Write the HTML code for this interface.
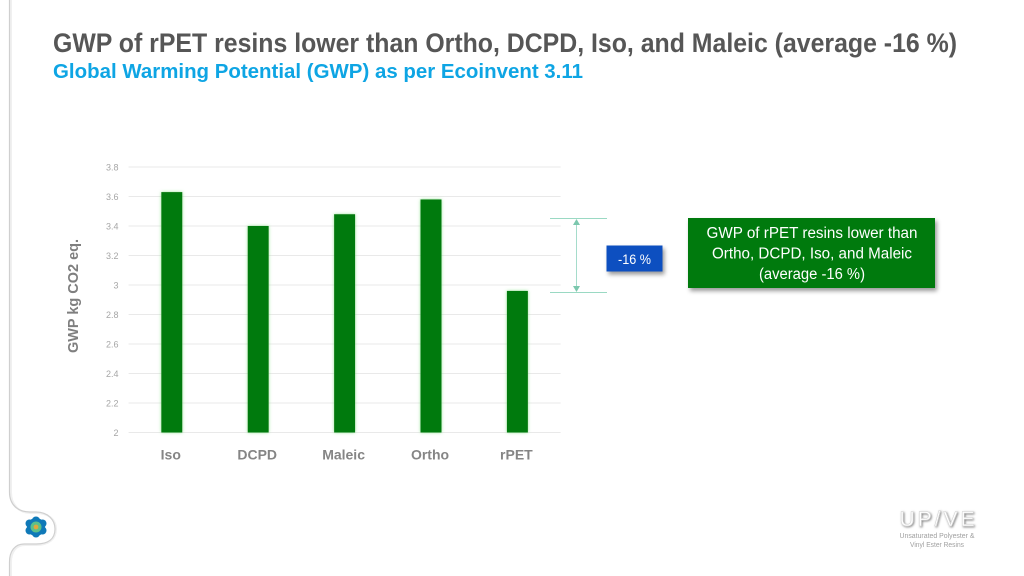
<!DOCTYPE html>
<html lang="en">
<head>
<meta charset="utf-8">
<title>GWP of rPET resins</title>
<style>
html,body{margin:0;padding:0;background:#fff;width:1024px;height:576px;overflow:hidden}
svg{display:block}
text{font-family:"Liberation Sans",sans-serif}
</style>
</head>
<body>
<svg id="slide" width="1024" height="576" viewBox="0 0 1024 576" xmlns="http://www.w3.org/2000/svg">
  <defs>
    <filter id="shadow" x="-10%" y="-20%" width="125%" height="150%">
      <feDropShadow dx="2" dy="3" stdDeviation="2" flood-color="#000" flood-opacity="0.4"/>
    </filter>
    <filter id="glow" x="-30%" y="-5%" width="160%" height="110%">
      <feDropShadow dx="0" dy="0" stdDeviation="1.5" flood-color="#7be07b" flood-opacity="0.8"/>
    </filter>
    <filter id="logoShadow" x="-10%" y="-20%" width="130%" height="150%">
      <feDropShadow dx="1" dy="1" stdDeviation="1" flood-color="#000" flood-opacity="0.5"/>
    </filter>
  </defs>

  <path d="M11 0V492C11 505 19 513 31 513H36C49 513 56 520 56 529C56 539 49 545 36 545H25C16 545 11 552 11 562V576" fill="none" stroke="#f0f0f0" stroke-width="2"/>
  <path d="M9.5 0V492C9.5 505 18 512 30 512H36C48 512 55 520 55 529C55 539 48 544 36 544H24C15 544 9.5 551 9.5 562V576" fill="none" stroke="#cfcfcf" stroke-width="1.2"/>
  <g>
    <circle cx="36" cy="527" r="9" fill="#0f79b8"/>
    <circle cx="36" cy="520.5" r="4" fill="#0f79b8"/>
    <circle cx="36" cy="533.5" r="4" fill="#0f79b8"/>
    <circle cx="29.5" cy="523.5" r="4" fill="#0f79b8"/>
    <circle cx="42.5" cy="523.5" r="4" fill="#0f79b8"/>
    <circle cx="29.5" cy="530.5" r="4" fill="#0f79b8"/>
    <circle cx="42.5" cy="530.5" r="4" fill="#0f79b8"/>
    <circle cx="36" cy="527" r="5.5" fill="#5cc08a"/>
    <circle cx="36" cy="527" r="2.4" fill="#e0a83c"/>
  </g>

  <text x="53" y="52" font-size="27" font-weight="700" fill="#565656" textLength="904" lengthAdjust="spacingAndGlyphs">GWP of rPET resins lower than Ortho, DCPD, Iso, and Maleic (average -16 %)</text>
  <text x="53" y="78" font-size="20.5" font-weight="700" fill="#0ea5e4" textLength="530" lengthAdjust="spacingAndGlyphs">Global Warming Potential (GWP) as per Ecoinvent 3.11</text>

  <g id="chart"></g>

  <text transform="translate(78 296) rotate(-90)" text-anchor="middle" font-size="14.5" font-weight="700" fill="#7f7f7f" textLength="114" lengthAdjust="spacingAndGlyphs">GWP kg CO2 eq.</text>

  <g>
    <line x1="550" x2="607" y1="218.5" y2="218.5" stroke="#9ad9c3" stroke-width="1"/>
    <line x1="550" x2="607" y1="292.5" y2="292.5" stroke="#9ad9c3" stroke-width="1"/>
    <line x1="576.5" x2="576.5" y1="222" y2="289" stroke="#a5dccb" stroke-width="1"/>
    <polygon points="576.5,219 573,225 580,225" fill="#7cc8ae"/>
    <polygon points="576.5,292 573,286 580,286" fill="#7cc8ae"/>
  </g>

  <g>
    <rect x="606.5" y="245.5" width="56" height="26" fill="#0b4fc0" filter="url(#shadow)"/>
    <text x="634.5" y="264" text-anchor="middle" font-size="13.5" fill="#fff" textLength="33" lengthAdjust="spacingAndGlyphs">-16 %</text>
  </g>

  <g>
    <rect x="688" y="218" width="247" height="70" fill="#067a0c" filter="url(#shadow)"/>
    <text x="812" y="238" text-anchor="middle" font-size="15.5" fill="#fff" textLength="211" lengthAdjust="spacingAndGlyphs">GWP of rPET resins lower than</text>
    <text x="812" y="258.5" text-anchor="middle" font-size="15.5" fill="#fff" textLength="200" lengthAdjust="spacingAndGlyphs">Ortho, DCPD, Iso, and Maleic</text>
    <text x="812" y="279" text-anchor="middle" font-size="15.5" fill="#fff" textLength="106" lengthAdjust="spacingAndGlyphs">(average -16 %)</text>
  </g>

  <g>
    <text x="937" y="526" text-anchor="middle" font-size="21" fill="#fff" stroke="#d0d0d0" stroke-width="0.5" filter="url(#logoShadow)" textLength="75" lengthAdjust="spacing">UP/VE</text>
    <text x="937" y="538" text-anchor="middle" font-size="7" fill="#a0a0a0" textLength="75" lengthAdjust="spacingAndGlyphs">Unsaturated Polyester &amp;</text>
    <text x="937" y="547" text-anchor="middle" font-size="7" fill="#a0a0a0" textLength="54" lengthAdjust="spacingAndGlyphs">Vinyl Ester Resins</text>
  </g>

  <script>
    var categories = ["Iso", "DCPD", "Maleic", "Ortho", "rPET"];
    var gwpValues = [3.63, 3.40, 3.48, 3.58, 2.96];
    var tickLabels = ["2", "2.2", "2.4", "2.6", "2.8", "3", "3.2", "3.4", "3.6", "3.8"];
    var tickValues = [2, 2.2, 2.4, 2.6, 2.8, 3, 3.2, 3.4, 3.6, 3.8];

    var NS = "http://www.w3.org/2000/svg";
    var chart = document.getElementById("chart");
    var plot = { left: 128.6, right: 560.6, top: 167, bottom: 432.5, min: 2, max: 3.8, barWidth: 21 };

    function yScale(v) {
      return plot.bottom - (v - plot.min) / (plot.max - plot.min) * (plot.bottom - plot.top);
    }
    function xScale(i) {
      return plot.left + (i + 0.5) * (plot.right - plot.left) / categories.length;
    }
    function make(tag, attrs, text) {
      var el = document.createElementNS(NS, tag);
      for (var k in attrs) { el.setAttribute(k, attrs[k]); }
      if (text !== undefined) { el.textContent = text; }
      chart.appendChild(el);
      return el;
    }

    tickValues.forEach(function (t, i) {
      var y = yScale(t);
      var line = make("line", { x1: plot.left, x2: plot.right, y1: y, y2: y, stroke: "#e9e9e9", "stroke-width": 1 });
      
      
      var label = make("text", { x: 118.5, y: y + 3.5, "text-anchor": "end", "font-size": 9, fill: "#a6a6a6" }, tickLabels[i]);
      
      
    });

    categories.forEach(function (c, i) {
      var x = xScale(i);
      var top = yScale(gwpValues[i]);
      var bar = make("rect", { x: x - plot.barWidth / 2, y: top, width: plot.barWidth, height: yScale(plot.min) - top, fill: "#067a0c", filter: "url(#glow)" });
      
      
      var label = make("text", { x: x - 1, y: 459.5, "text-anchor": "middle", "font-size": 14, "font-weight": 700, fill: "#858585" }, c);
      
      
    });
  </script>
</svg>
</body>
</html>
